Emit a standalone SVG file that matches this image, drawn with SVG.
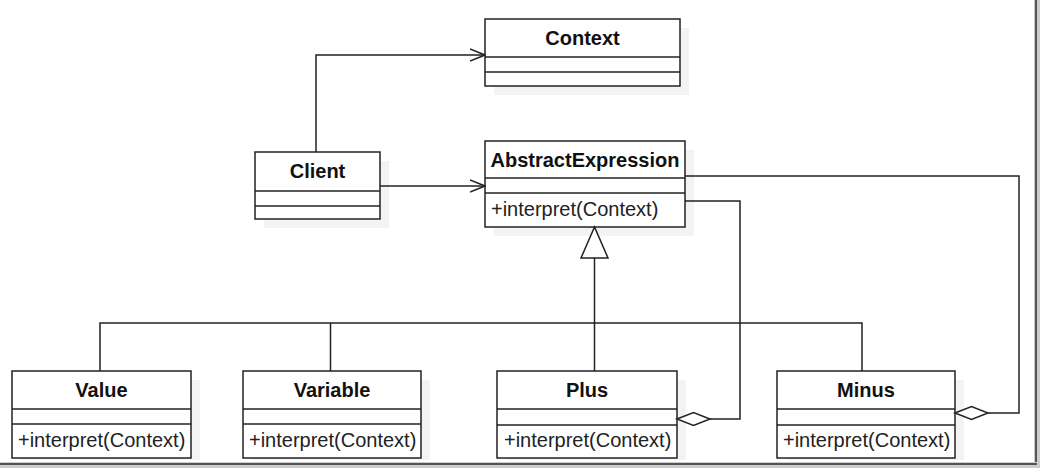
<svg xmlns="http://www.w3.org/2000/svg" width="1040" height="468" viewBox="0 0 1040 468">
<defs>
<style>
.box{fill:#fff;stroke:#222;stroke-width:1.5}
.sh{fill:#f3f3f3}
.div{stroke:#222;stroke-width:1.5}
.t{font-family:"Liberation Sans",Arial,sans-serif;font-size:20px;font-weight:bold;fill:#111;text-anchor:middle}
.m{font-family:"Liberation Sans",Arial,sans-serif;font-size:20px;fill:#222}
.c{fill:none;stroke:#222;stroke-width:1.5}
</style>
<marker id="open" viewBox="0 0 16 14" refX="15" refY="7" markerWidth="16" markerHeight="14" markerUnits="userSpaceOnUse" orient="auto">
<path d="M0,1 L15,7 L0,13" fill="none" stroke="#222" stroke-width="1.5"/>
</marker>
</defs>
<rect width="1040" height="468" fill="#fff"/>
<g id="frame">
<rect x="1034" y="0" width="6" height="468" fill="#ccc"/>
<rect x="1035" y="0" width="2" height="466" fill="#555"/>
<rect x="0" y="462" width="1040" height="6" fill="#ccc"/>
<rect x="0" y="463" width="1037" height="2" fill="#555"/>
</g>
<g id="Context">
<rect class="sh" x="494" y="28" width="195" height="67"/>
<rect class="box" x="485" y="19" width="195" height="67"/>
<line class="div" x1="485" y1="57" x2="680" y2="57"/>
<line class="div" x1="485" y1="72" x2="680" y2="72"/>
<text class="t" x="582.5" y="45">Context</text>
</g>
<g id="Client">
<rect class="sh" x="264" y="161" width="125" height="67"/>
<rect class="box" x="255" y="152" width="125" height="67"/>
<line class="div" x1="255" y1="191" x2="380" y2="191"/>
<line class="div" x1="255" y1="206" x2="380" y2="206"/>
<text class="t" x="317.5" y="178">Client</text>
</g>
<g id="AbstractExpression">
<rect class="sh" x="494" y="150" width="200" height="86"/>
<rect class="box" x="485" y="141" width="200" height="86"/>
<line class="div" x1="485" y1="178" x2="685" y2="178"/>
<line class="div" x1="485" y1="193" x2="685" y2="193"/>
<text class="t" x="585" y="167">AbstractExpression</text>
<text class="m" x="491" y="216">+interpret(Context)</text>
</g>
<g id="Value">
<rect class="sh" x="21" y="380" width="179" height="80"/>
<rect class="box" x="12" y="371" width="179" height="87"/>
<line class="div" x1="12" y1="409" x2="191" y2="409"/>
<line class="div" x1="12" y1="424" x2="191" y2="424"/>
<text class="t" x="101.5" y="397">Value</text>
<text class="m" x="18" y="447">+interpret(Context)</text>
</g>
<g id="Variable">
<rect class="sh" x="252" y="380" width="178" height="80"/>
<rect class="box" x="243" y="371" width="178" height="87"/>
<line class="div" x1="243" y1="409" x2="421" y2="409"/>
<line class="div" x1="243" y1="424" x2="421" y2="424"/>
<text class="t" x="332" y="397">Variable</text>
<text class="m" x="249" y="447">+interpret(Context)</text>
</g>
<g id="Plus">
<rect class="sh" x="506" y="380" width="180" height="80"/>
<rect class="box" x="497" y="371" width="180" height="87"/>
<line class="div" x1="497" y1="409" x2="677" y2="409"/>
<line class="div" x1="497" y1="425" x2="677" y2="425"/>
<text class="t" x="587" y="397">Plus</text>
<text class="m" x="504" y="447">+interpret(Context)</text>
</g>
<g id="Minus">
<rect class="sh" x="786" y="380" width="178" height="80"/>
<rect class="box" x="777" y="371" width="178" height="87"/>
<line class="div" x1="777" y1="409" x2="955" y2="409"/>
<line class="div" x1="777" y1="425" x2="955" y2="425"/>
<text class="t" x="866" y="397">Minus</text>
<text class="m" x="783" y="447">+interpret(Context)</text>
</g>
<g id="connectors">
<path class="c" d="M316,152 V55 H485" marker-end="url(#open)"/>
<path class="c" d="M380,186 H485" marker-end="url(#open)"/>
<path class="c" d="M594.5,371 V258"/>
<polygon points="594.5,227 581,258 608,258" fill="#fff" stroke="#222" stroke-width="1.5"/>
<path class="c" d="M100,371 V323 H862 V371"/>
<path class="c" d="M330.5,323 V371"/>
<path class="c" d="M685,201 H740 V419 H710"/>
<polygon points="677,419 693.5,412.5 710,419 693.5,425.5" fill="#fff" stroke="#222" stroke-width="1.5"/>
<path class="c" d="M685,176 H1019 V413 H988"/>
<polygon points="955,413 971.5,406.5 988,413 971.5,419.5" fill="#fff" stroke="#222" stroke-width="1.5"/>
</g>
</svg>
